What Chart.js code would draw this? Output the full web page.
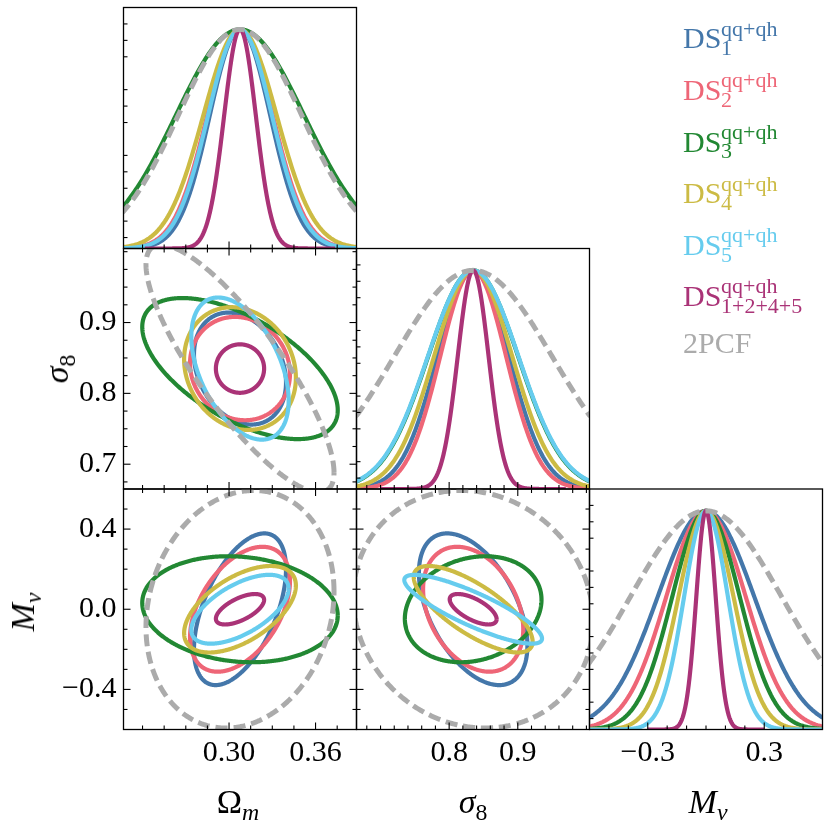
<!DOCTYPE html>
<html><head><meta charset="utf-8">
<script src="https://cdn.jsdelivr.net/npm/chart.js@4.4.1/dist/chart.umd.min.js"></script>
<style>
html,body{margin:0;padding:0;background:#fff;}
#wrap{position:relative;width:830px;height:830px;overflow:hidden;background:#fff;}
#wrap canvas{position:absolute;left:0;top:0;}
.lbl{position:absolute;font-family:"Liberation Serif",serif;font-size:34px;line-height:34px;white-space:nowrap;color:#000;}
.lbl i{font-style:italic;}
.lbl sub{font-size:0.7em;vertical-align:-0.28em;line-height:0;}
.leg{position:absolute;font-family:"Liberation Serif",serif;font-size:30px;line-height:30px;white-space:nowrap;}
.leg .sp,.leg .sb{position:absolute;left:38px;font-size:22px;line-height:22px;}
</style></head><body><div id="wrap"></div>
<script>
// ---------------- data ----------------
const seriesNames  = ['DS1','DS2','DS3','DS4','DS5','DS1+2+4+5','2PCF'];
const seriesColors = ['#4477AA','#EE6677','#228833','#CCBB44','#66CCEE','#AA3377','#ABABAB'];
const legendMain = ['DS','DS','DS','DS','DS','DS','2PCF'];
const legendSup  = ['qq+qh','qq+qh','qq+qh','qq+qh','qq+qh','qq+qh',''];
const legendSub  = ['1','2','3','4','5','1+2+4+5',''];
const fiducial = [0.3076, 0.835, 0.0];            // Ωm, σ8, Mν
const sigmaOm  = [0.0210, 0.0228, 0.0446, 0.0255, 0.0222, 0.0110, 0.0429];
const sigmaS8  = [0.0520, 0.0480, 0.0655, 0.0570, 0.0660, 0.0225, 0.1150];
const sigmaMnu = [0.2490, 0.2050, 0.1740, 0.1420, 0.1130, 0.0500, 0.3900];
const rhoOmS8  = [-0.25, -0.10, -0.59, -0.15, -0.45, 0.00, -0.84];
const rhoOmMnu = [ 0.53,  0.45, -0.12,  0.55,  0.60, 0.62,  0.15];
const rhoS8Mnu = [-0.48, -0.32,  0.18, -0.75, -0.85, -0.65, -0.10];
const contourScale = 1.52;   // 68% 2-D contour (sqrt of Δχ² = 2.30)
const rangeOm  = [0.2268, 0.3884];
const rangeS8  = [0.665, 1.0045];
const rangeMnu = [-0.6, 0.6];
const range1D  = [0, 1.1];
const ticksOm   = [0.30, 0.36];
const ticksS8X  = [0.8, 0.9];
const ticksS8Y  = [0.7, 0.8, 0.9];
const ticksMnuX = [-0.3, 0.3];
const ticksMnuY = [-0.4, 0.0, 0.4];
const minorOm   = [0.24, 0.255, 0.27, 0.285, 0.315, 0.33, 0.345, 0.375];
const minorS8X  = [0.68, 0.70, 0.72, 0.74, 0.76, 0.78, 0.82, 0.84, 0.86, 0.88, 0.92, 0.94, 0.96, 0.98, 1.00];
const minorS8Y  = [0.675, 0.725, 0.75, 0.775, 0.825, 0.85, 0.875, 0.925, 0.95, 0.975, 1.0];
const minorMnuX = [-0.5, -0.4, -0.2, -0.1, 0.0, 0.1, 0.2, 0.4, 0.5];
const minorMnuY = [-0.5, -0.3, -0.2, -0.1, 0.1, 0.2, 0.3, 0.5];
const minor1D   = [0.05, 0.125, 0.275, 0.35, 0.425, 0.575, 0.65, 0.725, 0.875, 0.95, 1.025];

// ---------------- layout ----------------
const colEdges = [123.5, 356.5, 589.5, 822.5];
const rowEdges = [7.5, 248.5, 489, 729.5];
const W_AX = 100, H_AX = 60;
const wrap = document.getElementById('wrap');

function gaussPts(mu, s){
  const pts = []; const n = 300;
  for (let i = 0; i <= n; i++){ const x = mu - 6*s + 12*s*i/n; pts.push({x, y: Math.exp(-0.5*((x-mu)/s)**2)}); }
  return pts;
}
function ellipsePts(cx, cy, sx, sy, rho){
  const pts = []; const n = 300; const c = Math.sqrt(1 - rho*rho);
  for (let i = 0; i <= n; i++){
    const t = 2*Math.PI*i/n;
    pts.push({x: cx + contourScale*sx*Math.cos(t), y: cy + contourScale*sy*(rho*Math.cos(t) + c*Math.sin(t))});
  }
  return pts;
}
const drawOrder = [6,5,4,3,2,1,0]; // first = on top
function style(i){
  return {label: seriesNames[i], borderColor: seriesColors[i], backgroundColor:'transparent',
    borderWidth: i===6 ? 5 : 4.2, borderDash: i===6 ? [12,6] : [], showLine:true, pointRadius:0,
    fill:false, tension:0.001, clip:0, borderCapStyle:'butt', borderJoinStyle:'round'};
}
function oneD(sig, mu){ return drawOrder.map(i => ({...style(i), data: gaussPts(mu, sig[i])})); }
function twoD(sx, sy, rho, cx, cy){ return drawOrder.map(i => ({...style(i), data: ellipsePts(cx, cy, sx[i], sy[i], rho[i])})); }

const innerTicks = {
  id: 'innerTicks',
  afterDatasetsDraw(chart, args, o){
    const {ctx, chartArea: a} = chart; const x = chart.scales.x, y = chart.scales.y;
    ctx.save(); ctx.strokeStyle = '#000'; ctx.lineWidth = 1.1; ctx.setLineDash([]);
    const seg = (x1,y1,x2,y2) => { ctx.beginPath(); ctx.moveTo(x1,y1); ctx.lineTo(x2,y2); ctx.stroke(); };
    const s = o.sides;
    const drawX = (vals,len) => vals.forEach(v => { const p = x.getPixelForValue(v);
      if (s.bottom) seg(p, a.bottom, p, a.bottom - len); if (s.top) seg(p, a.top, p, a.top + len); });
    const drawY = (vals,len) => vals.forEach(v => { const p = y.getPixelForValue(v);
      if (s.left) seg(a.left, p, a.left + len, p); if (s.right) seg(a.right, p, a.right - len, p); });
    drawX(o.xMajor, 7); drawX(o.xMinor, 4); drawY(o.yMajor, 7); drawY(o.yMinor, 4);
    ctx.lineWidth = 1.3; ctx.strokeRect(a.left, a.top, a.right - a.left, a.bottom - a.top);
    ctx.restore();
  }
};

const fmt2 = v => v.toFixed(2);
const fmt1 = v => v.toFixed(1).replace('-', '\u2212');
function axis(range, labels, dir){
  const o = {type:'linear', min: range[0], max: range[1], display: !!labels,
    grid:{display:false, drawTicks:false}, border:{display:false}};
  if (labels){
    o.ticks = {autoSkip:false, maxRotation:0, minRotation:0, padding: dir==='x' ? 6 : 7, color:'#000',
      font:{family:"'Liberation Serif', serif", size:30}, callback: v => labels.fmt(v)};
    o.afterBuildTicks = sc => { sc.ticks = labels.values.map(v => ({value: v})); };
    o.afterFit = sc => { if (dir==='x') sc.height = H_AX; else sc.width = W_AX; };
  }
  return o;
}
function makePanel(cfg){
  const cv = document.createElement('canvas'); cv.width = 830; cv.height = 830; wrap.appendChild(cv);
  const c = cfg.col, r = cfg.row;
  const pad = {left: colEdges[c] - (cfg.yLabels ? W_AX : 0), top: rowEdges[r],
    right: 830 - colEdges[c+1], bottom: 830 - rowEdges[r+1] - (cfg.xLabels ? H_AX : 0)};
  new Chart(cv, {type:'scatter', data:{datasets: cfg.datasets},
    options:{responsive:false, animation:false, events:[], layout:{padding: pad},
      plugins:{legend:{display:false}, tooltip:{enabled:false}, innerTicks: cfg.tickOpts},
      scales:{x: axis(cfg.xRange, cfg.xLabels, 'x'), y: axis(cfg.yRange, cfg.yLabels, 'y')}},
    plugins:[innerTicks]});
}
const all4 = {bottom:true, top:true, left:true, right:true};
const side1D = {bottom:true, top:false, left:true, right:false};

// 1D Ωm
makePanel({col:0, row:0, xRange: rangeOm, yRange: range1D, datasets: oneD(sigmaOm, fiducial[0]),
  tickOpts:{sides: side1D, xMajor: ticksOm, xMinor: minorOm, yMajor: [], yMinor: minor1D}});
// Ωm – σ8
makePanel({col:0, row:1, xRange: rangeOm, yRange: rangeS8, yLabels:{values: ticksS8Y, fmt: fmt1},
  datasets: twoD(sigmaOm, sigmaS8, rhoOmS8, fiducial[0], fiducial[1]),
  tickOpts:{sides: all4, xMajor: ticksOm, xMinor: minorOm, yMajor: ticksS8Y, yMinor: minorS8Y}});
// 1D σ8
makePanel({col:1, row:1, xRange: rangeS8, yRange: range1D, datasets: oneD(sigmaS8, fiducial[1]),
  tickOpts:{sides: side1D, xMajor: ticksS8X, xMinor: minorS8X, yMajor: [], yMinor: minor1D}});
// Ωm – Mν
makePanel({col:0, row:2, xRange: rangeOm, yRange: rangeMnu, xLabels:{values: ticksOm, fmt: fmt2},
  yLabels:{values: ticksMnuY, fmt: fmt1},
  datasets: twoD(sigmaOm, sigmaMnu, rhoOmMnu, fiducial[0], fiducial[2]),
  tickOpts:{sides: all4, xMajor: ticksOm, xMinor: minorOm, yMajor: ticksMnuY, yMinor: minorMnuY}});
// σ8 – Mν
makePanel({col:1, row:2, xRange: rangeS8, yRange: rangeMnu, xLabels:{values: ticksS8X, fmt: fmt1},
  datasets: twoD(sigmaS8, sigmaMnu, rhoS8Mnu, fiducial[1], fiducial[2]),
  tickOpts:{sides: all4, xMajor: ticksS8X, xMinor: minorS8X, yMajor: ticksMnuY, yMinor: minorMnuY}});
// 1D Mν
makePanel({col:2, row:2, xRange: rangeMnu, yRange: range1D, xLabels:{values: ticksMnuX, fmt: fmt1},
  datasets: oneD(sigmaMnu, fiducial[2]),
  tickOpts:{sides: side1D, xMajor: ticksMnuX, xMinor: minorMnuX, yMajor: [], yMinor: minor1D}});

// ---------------- axis titles ----------------
const titles = [
  {html:'Ω<sub><i>m</i></sub>', x:238, y:784.5, rot:false},
  {html:'<i>σ</i><sub>8</sub>', x:473, y:784.5, rot:false},
  {html:'<i>M</i><sub><i>ν</i></sub>', x:708, y:784.5, rot:false},
  {html:'<i>σ</i><sub>8</sub>', x:56.5, y:368.5, rot:true},
  {html:'<i>M</i><sub><i>ν</i></sub>', x:22.5, y:612, rot:true}
];
titles.forEach(t => {
  const d = document.createElement('div'); d.className = 'lbl'; d.innerHTML = t.html;
  d.style.left = t.x + 'px'; d.style.top = t.y + 'px';
  d.style.transform = t.rot ? 'translate(-50%,-50%) rotate(-90deg)' : 'translateX(-50%)';
  wrap.appendChild(d);
});

// ---------------- legend ----------------
const legendBaselines = [48.3, 100, 151.7, 203.3, 255, 306, 353.3];
seriesNames.forEach((n, i) => {
  const d = document.createElement('div'); d.className = 'leg';
  d.style.left = '683px'; d.style.top = (legendBaselines[i] - 25.1) + 'px'; d.style.color = seriesColors[i];
  d.appendChild(document.createTextNode(legendMain[i]));
  if (legendSup[i]){
    const sp = document.createElement('span'); sp.className = 'sp'; sp.textContent = legendSup[i]; sp.style.top = '-5.6px'; d.appendChild(sp);
    const sb = document.createElement('span'); sb.className = 'sb'; sb.textContent = legendSub[i]; sb.style.top = '13.7px'; d.appendChild(sb);
  }
  wrap.appendChild(d);
});
</script></body></html>
